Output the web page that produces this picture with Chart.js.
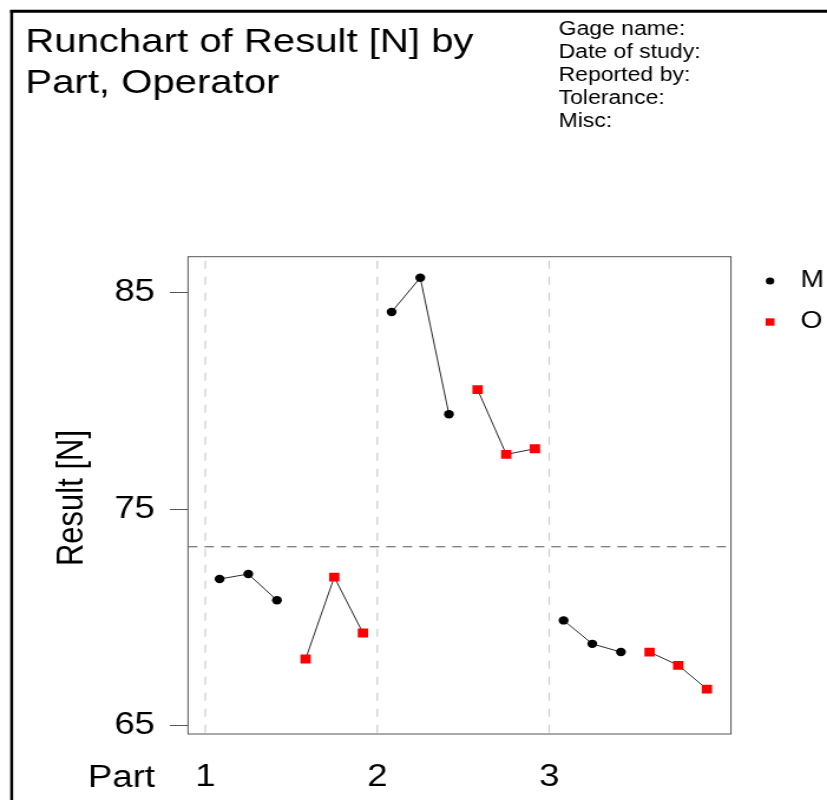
<!DOCTYPE html>
<html>
<head>
<meta charset="utf-8">
<title>Runchart of Result [N] by Part, Operator</title>
<script src="https://cdn.jsdelivr.net/npm/chart.js@4.4.1/dist/chart.umd.min.js"></script>
<style>
  html, body { margin: 0; padding: 0; background: #ffffff; }
</style>
</head>
<body>
<!-- the original render is stretched sideways, so the canvas is drawn narrow and widened inline -->
<canvas id="chartCanvas" width="701" height="800" style="display:block;width:827px;height:800px"></canvas>
<script>
// Chart data
const parts = [1, 2, 3];
const operators = ['M', 'O'];
// three repeats per part, parts 1..3 in order
const resultM = [71.77, 72.00, 70.79, 84.09, 85.67, 79.37, 69.86, 68.78, 68.40];
const resultO = [68.08, 71.86, 69.28, 80.51, 77.52, 77.78, 68.40, 67.79, 66.69];
const yTicks = [65, 75, 85];
const titleLines = ['Runchart of Result [N] by', 'Part, Operator'];
const infoLines = ['Gage name:', 'Date of study:', 'Reported by:', 'Tolerance:', 'Misc:'];

const FONT = '"Liberation Sans", Arial, sans-serif';
const REPEATS = 3;

const operatorStyles = {
  M: { pointStyle: 'circle', pointRadius: 4.2, color: '#000000' },
  O: { pointStyle: 'rect', pointRadius: 6.2, color: '#ff0000' }
};

function buildDatasets() {
  const datasets = [];
  const series = { M: resultM, O: resultO };
  parts.forEach((part, pIdx) => {
    operators.forEach((op, oIdx) => {
      const points = [];
      for (let r = 0; r < REPEATS; r++) {
        // each part gets six slots: M repeats then O repeats
        const slot = oIdx * REPEATS + r;
        points.push({ x: part + (slot + 0.5) / (operators.length * REPEATS), y: series[op][pIdx * REPEATS + r] });
      }
      const st = operatorStyles[op];
      datasets.push({
        label: op,
        data: points,
        borderColor: '#2a2a2a',
        borderWidth: 1,
        pointStyle: st.pointStyle,
        pointRadius: st.pointRadius,
        pointBackgroundColor: st.color,
        pointBorderWidth: 0,
        pointHoverRadius: st.pointRadius,
        tension: 0,
        fill: false
      });
    });
  });
  return datasets;
}

function grandMean() {
  const all = resultM.concat(resultO);
  return all.reduce((a, b) => a + b, 0) / all.length;
}

function drawText(ctx, text, x, y, size, align, baseline) {
  ctx.font = size + 'px ' + FONT;
  ctx.textAlign = align || 'left';
  ctx.textBaseline = baseline || 'alphabetic';
  ctx.fillText(text, x, y);
}

// Everything that is not a data mark: frame, guide lines, titles, legend
const decorPlugin = {
  id: 'decor',
  beforeDatasetsDraw(chart) {
    const ctx = chart.ctx;
    const area = chart.chartArea;
    const xs = chart.scales.x;
    const ys = chart.scales.y;
    ctx.save();
    // vertical guides at each part
    ctx.strokeStyle = '#c4c4c4';
    ctx.lineWidth = 1;
    ctx.setLineDash([8, 8]);
    xs.ticks.forEach(t => {
      const px = xs.getPixelForValue(t.value);
      ctx.beginPath();
      ctx.moveTo(px, area.top + 4);
      ctx.lineTo(px, area.bottom);
      ctx.stroke();
    });
    // grand mean
    const my = ys.getPixelForValue(grandMean());
    ctx.strokeStyle = '#555555';
    ctx.setLineDash([8, 6]);
    ctx.beginPath();
    ctx.moveTo(area.left, my);
    ctx.lineTo(area.right, my);
    ctx.stroke();
    ctx.restore();
  },
  afterDraw(chart) {
    const ctx = chart.ctx;
    const area = chart.chartArea;
    ctx.save();
    // plot box
    ctx.strokeStyle = '#555555';
    ctx.lineWidth = 1;
    ctx.strokeRect(area.left, area.top, area.right - area.left, area.bottom - area.top);

    // outer frame (only top and left edges show)
    ctx.strokeStyle = '#000000';
    ctx.lineWidth = 2.5;
    ctx.beginPath();
    ctx.moveTo(9.9, 10);
    ctx.lineTo(9.9, 800);
    ctx.stroke();
    ctx.lineWidth = 3;
    ctx.beginPath();
    ctx.moveTo(8.6, 11.3);
    ctx.lineTo(701, 11.3);
    ctx.stroke();

    ctx.fillStyle = '#000000';
    // title
    drawText(ctx, titleLines[0], 21.5, 52, 34);
    drawText(ctx, titleLines[1], 21.5, 93, 34);
    // study info
    infoLines.forEach((line, i) => drawText(ctx, line, 473.5, 34.5 + i * 23, 19.5));

    // axis names
    ctx.save();
    ctx.translate(61, 498);
    ctx.rotate(-Math.PI / 2);
    drawText(ctx, 'Result [N]', 0, 0, 31, 'center', 'middle');
    ctx.restore();
    drawText(ctx, 'Part', 74.6, 787, 31);

    // legend
    const lx = 652.7;
    const legendY = [281, 322];
    operators.forEach((op, i) => {
      const st = operatorStyles[op];
      ctx.fillStyle = st.color;
      if (st.pointStyle === 'circle') {
        ctx.beginPath();
        ctx.arc(lx, legendY[i], 3.6, 0, Math.PI * 2);
        ctx.fill();
      } else {
        ctx.fillRect(lx - 3.8, legendY[i] - 3.7, 7.6, 7.4);
      }
      ctx.fillStyle = '#000000';
      drawText(ctx, op, 678.5, legendY[i] - 1, 24, 'left', 'middle');
    });
    ctx.restore();
  }
};

function renderChart() {
  Chart.defaults.font.family = FONT;
  const ctx = document.getElementById('chartCanvas').getContext('2d');
  return new Chart(ctx, {
    type: 'line',
    data: { datasets: buildDatasets() },
    options: {
      responsive: false,
      animation: false,
      layout: { padding: { left: 0, top: 256.7, right: 81.4, bottom: 0 } },
      plugins: {
        legend: { display: false },
        tooltip: { enabled: false }
      },
      scales: {
        x: {
          type: 'linear',
          min: 0.8996,
          max: 4.0566,
          afterBuildTicks: s => { s.ticks = parts.map(v => ({ value: v })); },
          afterFit: s => { s.height = 66; },
          ticks: { color: '#000000', font: { size: 31 }, padding: 25, maxRotation: 0 },
          grid: { display: false, drawTicks: false },
          border: { display: false }
        },
        y: {
          type: 'linear',
          min: 64.62,
          max: 86.64,
          afterBuildTicks: s => { s.ticks = yTicks.map(v => ({ value: v })); },
          afterFit: s => { s.width = 159.36; },
          ticks: { color: '#000000', font: { size: 31 }, padding: 12.7 },
          grid: { drawOnChartArea: false, drawTicks: true, tickLength: 15.3, tickColor: '#555555', tickWidth: 1 },
          border: { display: false }
        }
      }
    },
    plugins: [decorPlugin]
  });
}

document.addEventListener('DOMContentLoaded', () => {
  renderChart();
});
</script>
</body>
</html>
